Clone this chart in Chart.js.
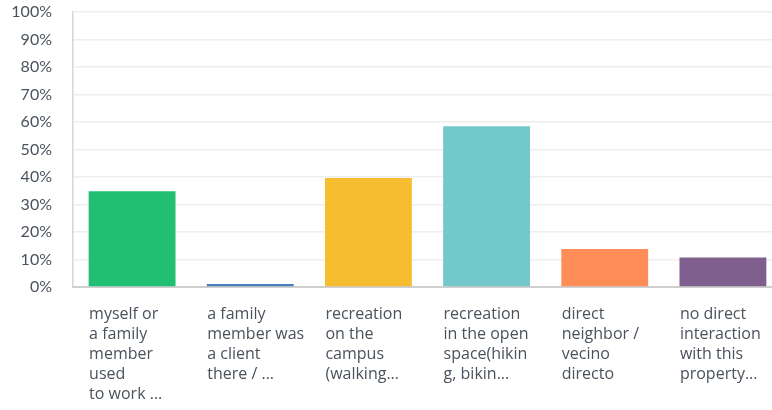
<!DOCTYPE html>
<html>
<head>
<meta charset="utf-8">
<script src="https://cdn.jsdelivr.net/npm/chart.js@4/dist/chart.umd.min.js"></script>
<style>
  html, body { margin: 0; padding: 0; background: #fff; overflow: hidden; }
  #wrap { width: 782px; height: 410px; }
</style>
</head>
<body>
<div id="wrap"><canvas id="chart"></canvas></div>
<script>
/* ========= DATA ========= */
const categories = [
  ["myself or", "a family", "member", "used", "to work ..."],
  ["a family", "member was", "a client", "there / ..."],
  ["recreation", "on the", "campus", "(walking..."],
  ["recreation", "in the open", "space(hikin", "g, bikin..."],
  ["direct", "neighbor /", "vecino", "directo"],
  ["no direct", "interaction", "with this", "property..."]
];
const percentValues = [34.8, 1.1, 39.6, 58.5, 13.8, 10.7];
const barColors = ["#20bf72", "#4f7cba", "#f6bd30", "#72c8ca", "#fe8d58", "#7f5f8e"];
const yTicks = [0, 10, 20, 30, 40, 50, 60, 70, 80, 90, 100];

const textColor = "#4a525c";

/* ========= X LABELS ========= */
// left aligned multi line labels, placed from the category scale
const xLabelPlugin = {
  id: "xLabels",
  afterDraw(chart) {
    const ctx = chart.ctx;
    const x = chart.scales.x;
    ctx.save();
    ctx.font = "16px 'Open Sans'";
    ctx.fillStyle = textColor;
    ctx.textAlign = "left";
    ctx.textBaseline = "middle";
    categories.forEach((lines, i) => {
      const left = x.getPixelForTick(i) - 43;
      lines.forEach((line, j) => {
        ctx.fillText(line, left, 314 + j * 20);
      });
    });
    ctx.restore();
  }
};

/* ========= CHART ========= */
function initChart() {
  new Chart(document.getElementById("chart"), {
    type: "bar",
    data: {
      labels: categories.map(c => c.join(" ")),
      datasets: [{
        data: percentValues,
        backgroundColor: barColors,
        borderWidth: 0,
        barPercentage: 0.735,
        categoryPercentage: 1
      }]
    },
    options: {
      responsive: true,
      maintainAspectRatio: false,
      animation: false,
      layout: { padding: 0 },
      plugins: { legend: { display: false }, tooltip: { enabled: false } },
      scales: {
        x: {
          grid: { display: false },
          border: { color: "#cfcfcf", width: 2 },
          ticks: { display: false },
          afterFit: s => { s.height = 123; }
        },
        y: {
          min: 0,
          max: 100,
          afterBuildTicks: s => { s.ticks = yTicks.map(v => ({ value: v })); },
          // tick padding also pads top/bottom, so fix those here
          afterFit: s => { s.width = 73; s.paddingTop = 12; s.paddingBottom = 0; },
          grid: { color: "#eeeeee", lineWidth: 1.5, drawTicks: false },
          border: { color: "#d6d6d6", width: 1.5 },
          ticks: {
            padding: 21,
            color: textColor,
            font: { family: "Lato", size: 16 },
            callback: v => v + "%"
          }
        }
      }
    },
    plugins: [xLabelPlugin]
  });
}

window.onload = initChart;
</script>
</body>
</html>
